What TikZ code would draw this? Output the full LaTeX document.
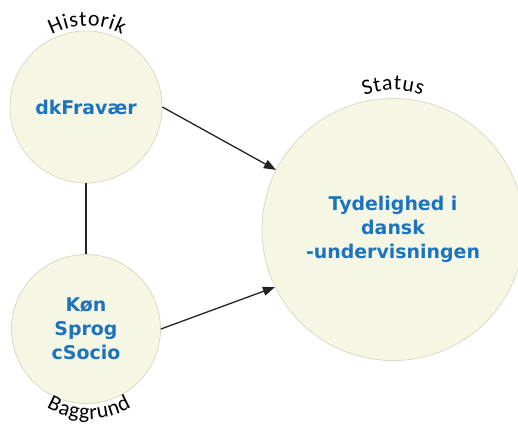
\documentclass[tikz,border=0pt]{standalone}
\usepackage{fontspec}
\setmainfont{Carlito}
\newfontfamily\bluefont{DejaVu Sans}
\usetikzlibrary{arrows.meta,decorations.text}
\definecolor{nodefill}{RGB}{246,246,228}
\definecolor{nodeline}{RGB}{218,218,196}
\definecolor{nodetext}{RGB}{30,115,190}
\definecolor{linkcol}{RGB}{35,35,35}
\begin{document}
\begin{tikzpicture}[x=1bp,y=1bp,
  bubble/.style={circle, draw=nodeline, fill=nodefill, line width=0.8bp, inner sep=0pt,
    align=center, text=nodetext, font=\bluefont\bfseries\fontsize{19}{24}\selectfont},
  link/.style={draw=linkcol, line width=1.3bp},
  arrowlink/.style={link, -{Triangle[length=12bp,width=9bp]}},
  arctext/.style={decorate, decoration={text along path, text align=fit to path,
    text={|\fontsize{22}{22}\selectfont|#1}}}
]
\useasboundingbox (0,0) rectangle (518,427);
\node[bubble, minimum size=152bp] (hist) at (86,320) {dkFravær};
\node[bubble, minimum size=149bp] (bagg) at (86,98) {Køn\\Sprog\\cSocio};
\node[bubble, minimum size=262bp] (stat) at (393,197.5) {Tydelighed i\\dansk\\-undervisningen};
\draw[arrowlink] (hist.0) -- (stat.153);
\draw[arrowlink] (bagg.0) -- (stat.206);
\draw[link] (hist.south) -- (bagg.north);
\coordinate (hc) at (87,326);
\coordinate (sc) at (393,257);
\coordinate (bc) at (89,93);
\path[arctext={Historik}] (hc) ++(118:75) arc[start angle=118, end angle=62, radius=75];
\path[arctext={Status}] (sc) ++(111:80) arc[start angle=111, end angle=69, radius=80];
\path[arctext={Baggrund}] (bc) ++(240:85) arc[start angle=240, end angle=300, radius=85];
\end{tikzpicture}
\end{document}
